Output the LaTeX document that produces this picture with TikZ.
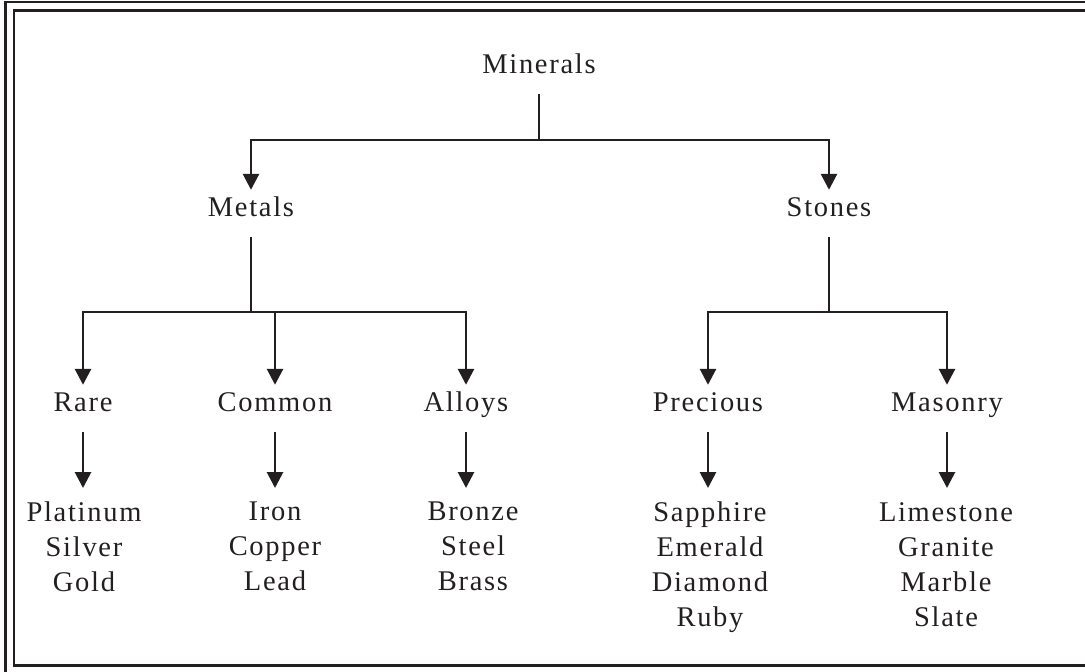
\documentclass[tikz,border=0pt]{standalone}
\usepackage{fontspec}
\setmainfont{Liberation Serif}[LetterSpace=6]
\usetikzlibrary{arrows.meta}
\definecolor{ink}{HTML}{231F20}
\tikzset{
  lbl/.style={anchor=base, inner sep=0pt, text height=26pt, text depth=21pt},
  leaf/.style={anchor=north, inner xsep=0pt, inner ysep=14pt, align=center},
  ln/.style={draw=ink, line width=2.8pt},
  arr/.style={ln, -{Triangle[length=16pt,width=16pt]}},
  frame/.style={draw=ink, line width=2.6pt}
}
\begin{document}
\begin{tikzpicture}[x=1pt, y=-1pt, every node/.style={text=ink, font=\fontsize{28.5}{35}\selectfont}]
\useasboundingbox (0,0) rectangle (1085,672);
\clip (0,0) rectangle (1085,672);
\draw[frame] (5.5,2) rectangle (1110,700);
\draw[frame] (14,10.5) rectangle (1110,665.5);
\node[lbl] (minerals) at (539,73) {Minerals};
\node[lbl] (metals) at (251,216) {Metals};
\node[lbl] (stones) at (829,216) {Stones};
\node[lbl] (rare) at (83,411) {Rare};
\node[lbl] (common) at (275,411) {Common};
\node[lbl] (alloys) at (466,411) {Alloys};
\node[lbl] (precious) at (708,411) {Precious};
\node[lbl] (masonry) at (947,411) {Masonry};
\node[leaf] (rare-list) at (84,488) {Platinum\\Silver\\Gold};
\node[leaf] (common-list) at (275,488) {Iron\\Copper\\Lead};
\node[leaf] (alloys-list) at (473,488) {Bronze\\Steel\\Brass};
\node[leaf] (precious-list) at (710,488) {Sapphire\\Emerald\\Diamond\\Ruby};
\node[leaf] (masonry-list) at (946,488) {Limestone\\Granite\\Marble\\Slate};
\coordinate (hub1) at (539,140);
\coordinate (hub2) at (251,312);
\coordinate (hub3) at (829,312);
\draw[ln] (minerals.south) -- (hub1);
\draw[arr] (hub1) -| (metals.north);
\draw[arr] (hub1) -| (stones.north);
\draw[ln] (metals.south) -- (hub2);
\draw[arr] (hub2) -| (rare.north);
\draw[arr] (hub2) -| (common.north);
\draw[arr] (hub2) -| (alloys.north);
\draw[ln] (stones.south) -- (hub3);
\draw[arr] (hub3) -| (precious.north);
\draw[arr] (hub3) -| (masonry.north);
\foreach \a in {rare,common,alloys,precious,masonry}
  \draw[arr] (\a.south) -- (\a.south |- \a-list.north);
\end{tikzpicture}
\end{document}
